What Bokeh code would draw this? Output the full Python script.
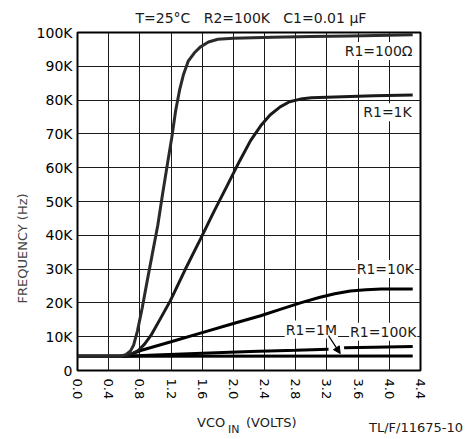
import math
from bokeh.plotting import figure
from bokeh.layouts import column
from bokeh.models import Range1d, FixedTicker, Label, Arrow, NormalHead, Title, Div
from bokeh.embed import file_html
from bokeh.resources import INLINE

NAN = float("nan")

# ---- ticks ----
x_ticks = [0.0, 0.4, 0.8, 1.2, 1.6, 2.0, 2.4, 2.8, 3.2, 3.6, 4.0, 4.4]
x_tick_labels = ["0.0", "0.4", "0.8", "1.2", "1.6", "2.0", "2.4", "2.8", "3.2", "3.6", "4.0", "4.4"]
y_ticks = [0, 10, 20, 30, 40, 50, 60, 70, 80, 90, 100]
y_tick_labels = ["0", "10K", "20K", "30K", "40K", "50K", "60K", "70K", "80K", "90K", "100K"]

# ---- series (VCO_IN volts, frequency kHz) ----
r100_x = [0.0, 0.55, 0.62, 0.68, 0.72, 0.77, 0.83, 0.89, 0.96, 1.03, 1.09, 1.15, 1.21, 1.26,
          1.31, 1.36, 1.42, 1.50, 1.58, 1.68, 1.80, 2.0, 2.5, 3.0, 3.5, 4.0, 4.3]
r100_y = [4.2, 4.2, 4.7, 5.8, 7.5, 11.8, 18.5, 26.0, 34.5, 43.0, 52.0, 60.6, 69.0, 77.0,
          83.0, 87.6, 91.5, 94.0, 95.8, 97.2, 98.0, 98.3, 98.6, 98.8, 99.0, 99.2, 99.3]

r1k_x = [0.0, 0.58, 0.66, 0.72, 0.78, 0.86, 0.94, 1.06, 1.19, 1.38, 1.58, 1.75, 1.92, 2.08,
         2.22, 2.35, 2.47, 2.6, 2.72, 2.86, 3.0, 3.4, 3.8, 4.3]
r1k_y = [4.2, 4.2, 4.6, 5.2, 5.9, 7.8, 10.3, 15.2, 20.6, 29.8, 39.0, 47.0, 54.7, 62.0,
         68.0, 72.4, 75.6, 78.0, 79.5, 80.3, 80.7, 81.0, 81.3, 81.5]

r10k_x = [0.0, 0.6, 0.7, 0.81, 1.2, 1.6, 2.0, 2.35, 2.6, 2.86, 3.1, 3.3, 3.5, 3.7, 3.9, 4.3]
r10k_y = [4.2, 4.2, 4.9, 5.9, 8.5, 11.2, 13.9, 16.2, 18.1, 20.0, 21.6, 22.7, 23.5, 23.9, 24.1, 24.1]

r100k_x = [0.0, 0.6, 1.0, 1.6, 2.22, 2.8, 3.22, NAN, 3.42, 3.8, 4.3]
r100k_y = [4.2, 4.2, 4.6, 5.1, 5.6, 6.0, 6.3, NAN, 6.7, 6.9, 7.1]

r1m_x = [0.0, 0.6, 4.3]
r1m_y = [4.2, 4.2, 4.3]

FONT = "DejaVu Sans"
NB = "\u00a0"
INK = "#1a1a1a"

p = figure(width=469, height=402, output_backend="svg", toolbar_location=None,
           x_range=Range1d(0, 4.4), y_range=Range1d(0, 100),
           min_border_left=77, min_border_right=49, min_border_top=32, min_border_bottom=30)
p.background_fill_color = "white"
p.border_fill_color = "white"
p.outline_line_color = "black"
p.outline_line_width = 2

p.title.text = "T=25\u00b0C" + NB * 3 + "R2=100K" + NB * 3 + "C1=0.01" + NB + "\u03bcF"
p.title.align = "left"
p.title.offset = 58
p.title.standoff = 14
p.title.text_font = FONT
p.title.text_font_size = "14px"
p.title.text_font_style = "normal"
p.title.text_color = INK

p.add_layout(Title(text="FREQUENCY (Hz)", align="left", offset=67, standoff=8,
                   text_font=FONT, text_font_size="13px", text_font_style="normal",
                   text_color="#444444"), "left")

p.xaxis.ticker = FixedTicker(ticks=x_ticks)
p.xaxis.major_label_overrides = {t: l for t, l in zip(x_ticks, x_tick_labels)}
p.yaxis.ticker = FixedTicker(ticks=y_ticks)
p.yaxis.major_label_overrides = {t: l for t, l in zip(y_ticks, y_tick_labels)}
p.xaxis.major_label_orientation = "vertical"

for ax in (p.xaxis, p.yaxis):
    ax.axis_line_color = None
    ax.major_tick_line_color = None
    ax.minor_tick_line_color = None
    ax.major_tick_out = 0
    ax.major_tick_in = 0
    ax.major_label_text_font = FONT
    ax.major_label_text_color = "black"
p.xaxis.major_label_text_font_size = "13px"
p.yaxis.major_label_text_font_size = "14px"
p.xaxis.major_label_standoff = 8
p.yaxis.major_label_standoff = 5

p.xgrid.ticker = FixedTicker(ticks=x_ticks)
p.ygrid.ticker = FixedTicker(ticks=y_ticks)
for g in (p.xgrid, p.ygrid):
    g.grid_line_color = INK
    g.grid_line_width = 1
    g.grid_line_alpha = 1.0

LW = 3
p.line(r1m_x, r1m_y, line_color="black", line_width=LW)
p.line(r100k_x, r100k_y, line_color="black", line_width=LW)
p.line(r10k_x, r10k_y, line_color="black", line_width=LW)
p.line(r1k_x, r1k_y, line_color=INK, line_width=LW)
p.line(r100_x, r100_y, line_color="#2a2a2a", line_width=LW)


def lab(text, x, y, align="left", size="14px", color=INK):
    p.add_layout(Label(x=x, y=y, text=text, text_align=align, text_baseline="middle",
                       text_font=FONT, text_font_size=size, text_color=color,
                       background_fill_color="white", padding=1))

# curve labels
lab("R1=100\u03a9", 4.31, 94.5, align="right")
lab("R1=1K", 4.30, 76.4, align="right")
lab("R1=10K", 4.33, 30.0, align="right")
lab("R1=100K", 4.36, 11.5, align="right")
lab("R1=1M", 3.0, 12.1, align="center")

p.add_layout(Arrow(end=NormalHead(size=7, fill_color="black", line_color="black"),
                   x_start=3.22, y_start=10.3, x_end=3.37, y_end=5.0,
                   line_color="black", line_width=1.2))

# ---- strip below the chart: x-axis title (with subscript) and figure code ----
span = ("position:absolute;white-space:nowrap;line-height:1;font-family:'DejaVu Sans';"
        "color:#1a1a1a;")
strip_html = (
    '<div style="position:relative;width:469px;height:37px;margin:0;padding:0;">'
    f'<span style="{span}left:197px;top:14px;font-size:13px;">VCO</span>'
    f'<span style="{span}left:228px;top:22px;font-size:11px;">IN</span>'
    f'<span style="{span}left:246px;top:14px;font-size:13px;">(VOLTS)</span>'
    f'<span style="{span}right:6px;top:19px;font-size:13px;">TL/F/11675-10</span>'
    '</div>'
)
strip = Div(text=strip_html, width=469, height=37, margin=0)

layout = column(p, strip, spacing=0)
open("out.html", "w").write(file_html(layout, INLINE))
